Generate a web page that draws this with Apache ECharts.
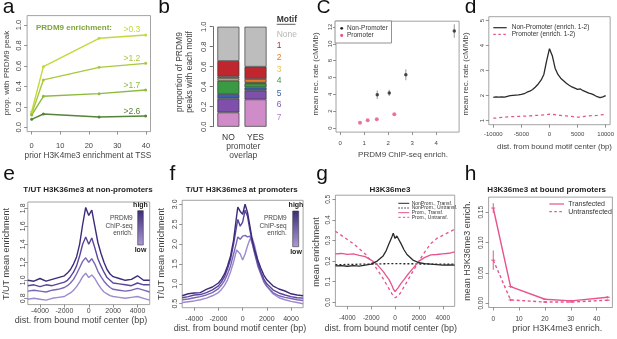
<!DOCTYPE html>
<html><head><meta charset="utf-8">
<script src="https://cdn.jsdelivr.net/npm/echarts@6/dist/echarts.min.js"></script>
<style>html,body{margin:0;padding:0;background:#fff}#c{width:617px;height:339px}</style>
</head><body><div id="c"></div>
<script>
// ---------- DATA ----------
// panel a
const aX = [0, 4.1, 23.6, 39.9];
const a03 = [0.153, 0.593, 0.870, 0.902];
const a12 = [0.130, 0.463, 0.586, 0.625];
const a17 = [0.120, 0.303, 0.329, 0.365];
const a26 = [0.078, 0.130, 0.101, 0.110];
const aLabels = ['>0.3', '>1.2', '>1.7', '>2.6'];
const aTicksX = [0, 10, 20, 30, 40];
const aTicksY = [0, 0.2, 0.4, 0.6, 0.8, 1.0];
// panel b
const bCats = ['NO', 'YES'];
const bMotifs = ['7', '6', '5', '4', '3', '2', '1', 'None'];
const bNO  = [0.143, 0.140, 0.044, 0.133, 0.023, 0.017, 0.157, 0.343];
const bYES = [0.273, 0.087, 0.033, 0.040, 0.007, 0.037, 0.123, 0.400];
const bTicksY = [0, 0.2, 0.4, 0.6, 0.8, 1.0];
// panel c
const cNonX = [1.55, 2.05, 2.74, 4.76];
const cNonY = [3.95, 4.16, 6.33, 11.52];
const cNonErr = [0.5, 0.37, 0.65, 0.8];
const cPromX = [0.83, 1.15, 1.53, 2.26];
const cPromY = [0.63, 0.91, 1.03, 1.62];
const cPromErr = [0.06, 0.06, 0.07, 0.09];
const cTicksX = [0, 1, 2, 3, 4];
const cTicksY = [0, 2, 4, 6, 8, 10, 12];
// panel d
const dX = [-10000,-9500,-9000,-8500,-8000,-7500,-7000,-6500,-6000,-5500,-5000,-4500,-4000,-3500,-3000,-2500,-2000,-1500,-1000,-500,0,500,1000,1500,2000,2500,3000,3500,4000,4500,5000,5500,6000,6500,7000,7500,8000,8500,9000,9500,10000];
const dNon = [1.93,1.95,1.94,1.95,1.94,1.97,2.0,2.01,2.02,2.03,2.05,2.08,2.14,2.18,2.25,2.35,2.47,2.62,2.85,3.4,3.88,3.6,3.1,2.85,2.7,2.6,2.5,2.42,2.35,2.3,2.25,2.27,2.2,2.15,2.1,2.07,2.02,1.96,1.92,1.95,2.0];
const dProm = [1.1,1.1,1.12,1.13,1.14,1.15,1.16,1.16,1.17,1.17,1.18,1.18,1.19,1.19,1.2,1.21,1.21,1.22,1.23,1.24,1.26,1.25,1.24,1.22,1.21,1.2,1.19,1.18,1.17,1.15,1.14,1.14,1.16,1.18,1.19,1.2,1.2,1.21,1.23,1.24,1.25];
const dTicksX = [-10000, -5000, 0, 5000, 10000];
const dTicksY = [1, 2, 3, 4, 5];
// panel e
const eX = [-5000,-4500,-4000,-3500,-3000,-2500,-2000,-1750,-1500,-1250,-1000,-750,-500,-250,0,250,500,750,1000,1250,1500,1750,2000,2500,3000,3500,4000,4500,5000];
const eL1 = [1.00,0.99,1.02,0.99,1.01,1.03,1.05,1.08,1.12,1.18,1.26,1.40,1.62,1.81,1.72,1.78,1.60,1.42,1.30,1.20,1.12,1.07,1.04,1.02,1.00,1.01,1.05,1.00,1.00];
const eL2 = [0.94,0.95,0.93,0.95,0.94,0.96,0.98,1.00,1.04,1.09,1.16,1.27,1.40,1.48,1.40,1.47,1.36,1.24,1.16,1.09,1.03,1.00,0.97,0.96,0.95,0.94,0.97,0.95,0.95];
const eL3 = [0.88,0.89,0.88,0.87,0.89,0.90,0.92,0.94,0.97,1.01,1.07,1.14,1.21,1.25,1.20,1.24,1.18,1.10,1.04,0.99,0.95,0.92,0.90,0.89,0.88,0.89,0.91,0.89,0.87];
const eL4 = [0.79,0.80,0.79,0.78,0.80,0.81,0.82,0.84,0.86,0.89,0.93,0.98,1.04,1.08,1.03,1.06,1.02,0.96,0.91,0.87,0.85,0.83,0.82,0.81,0.80,0.81,0.82,0.80,0.78];
const eTicksX = [-4000, -2000, 0, 2000, 4000];
const eTicksY = [0.8, 1.0, 1.2, 1.4, 1.6, 1.8];
// panel f
const fX = [-5000,-4500,-4000,-3500,-3000,-2500,-2000,-1750,-1500,-1250,-1000,-750,-500,-400,-200,0,200,400,600,800,1000,1250,1500,1750,2000,2500,3000,3500,4000,4500,5000];
const fL1 = [0.70,0.75,0.77,0.78,0.86,0.92,1.02,1.12,1.25,1.45,1.70,2.10,2.70,2.93,2.82,2.75,3.00,2.80,2.45,2.10,1.85,1.60,1.40,1.22,1.10,0.95,0.87,0.82,0.75,0.72,0.70];
const fL2 = [0.65,0.68,0.72,0.73,0.78,0.85,0.95,1.05,1.18,1.38,1.62,2.00,2.45,2.62,2.45,2.55,2.85,2.70,2.35,2.05,1.80,1.52,1.30,1.12,1.00,0.85,0.77,0.72,0.68,0.65,0.64];
const fL3 = [0.60,0.62,0.65,0.68,0.72,0.78,0.88,0.97,1.08,1.25,1.45,1.75,2.05,2.18,2.12,2.20,2.22,2.18,2.20,2.00,1.75,1.45,1.25,1.05,0.93,0.78,0.70,0.66,0.63,0.60,0.58];
const fL4 = [0.53,0.55,0.57,0.60,0.64,0.70,0.78,0.86,0.96,1.10,1.30,1.55,1.85,1.90,1.75,1.60,1.75,1.95,2.12,2.15,1.95,1.60,1.30,1.10,0.95,0.75,0.65,0.60,0.56,0.53,0.50];
const fTicksX = [-4000, -2000, 0, 2000, 4000];
const fTicksY = [0.5, 1.0, 1.5, 2.0, 2.5, 3.0];
// panel g
const gX = [-5000,-4500,-4000,-3500,-3000,-2500,-2000,-1500,-1000,-750,-500,-250,-150,0,150,250,500,750,1000,1500,2000,2500,3000,3500,4000,4500,5000];
const gNonT = [0.177,0.178,0.175,0.178,0.176,0.180,0.185,0.200,0.225,0.250,0.285,0.320,0.335,0.310,0.322,0.315,0.285,0.255,0.232,0.205,0.192,0.188,0.185,0.183,0.180,0.181,0.180];
const gNonU = [0.183,0.183,0.184,0.184,0.185,0.185,0.186,0.186,0.187,0.187,0.188,0.188,0.188,0.188,0.188,0.188,0.188,0.187,0.187,0.187,0.186,0.186,0.186,0.185,0.185,0.185,0.185];
const gProT = [0.235,0.237,0.233,0.235,0.228,0.222,0.205,0.183,0.150,0.130,0.110,0.080,0.065,0.052,0.060,0.070,0.092,0.110,0.130,0.165,0.200,0.218,0.230,0.232,0.235,0.238,0.245];
const gProU = [0.345,0.325,0.305,0.285,0.260,0.235,0.200,0.160,0.115,0.090,0.065,0.040,0.032,0.022,0.025,0.030,0.050,0.075,0.100,0.150,0.200,0.245,0.285,0.310,0.325,0.340,0.355];
const gNames = ['NonProm., Transf.', 'NonProm., Untransf.', 'Prom., Transf.', 'Prom., Untransf.'];
const gTicksX = [-4000, -2000, 0, 2000, 4000];
const gTicksY = [0, 0.1, 0.2, 0.3, 0.4, 0.5];
// panel h
const hX = [0, 6.7, 20, 30.1, 44.3];
const hTrans = [0.157, 0.0275, 0.0066, 0.004, 0.0099];
const hTransErr = [0.008, 0.002, 0.001, 0.001, 0.002];
const hUntrans = [0.071, 0.0055, 0.002, 0.002, 0.005];
const hUntransErr = [0.016, 0.002, 0.001, 0.001, 0.001];
const hTicksX = [0, 10, 20, 30, 40];
const hTicksY = [0, 0.05, 0.10, 0.15];

// ---------- STYLE ----------
const FONT = "'Liberation Sans', Arial, Helvetica, sans-serif";
const PINK = '#e6548c';
const GREENS = ['#c4d83c', '#a8c93e', '#8dba3e', '#56843a'];
const MOTIF_COLORS = ['#d08bc9', '#7f50ab', '#3b5fb0', '#3a9a44', '#f3cf3a', '#e07b2a', '#c0262e', '#bdbdbd'];
const MOTIF_TEXT = ['#b67fcc', '#7f55ad', '#3b5fb0', '#3a9a44', '#f0c43a', '#e07b2a', '#c0262e', '#b5b5b5'];
const PURPLES = ['#3d2b7a', '#5b449b', '#7b66b6', '#9d8ace'];

const zip = (xs, ys) => xs.map((x, i) => [x, ys[i]]);

const grids = [], xAxes = [], yAxes = [], series = [], graphics = [];

function panel(box, xr, yr, xt, yt, o) {
  const i = grids.length;
  grids.push({left: box[0], top: box[1], width: box[2], height: box[3], show: o.frame !== false,
    borderColor: '#8c8c8c', borderWidth: 0.8, containLabel: false});
  xAxes.push({type: 'value', gridIndex: i, min: xr[0], max: xr[1], splitLine: {show: false},
    axisLine: {show: false, onZero: false}, axisTick: {show: true, length: 3, customValues: xt, lineStyle: {color: '#777', width: 0.8}},
    axisLabel: {customValues: xt, margin: o.xm, fontSize: o.fs, color: '#444', fontFamily: FONT,
      formatter: o.xf || (v => String(v))}});
  yAxes.push({type: 'value', gridIndex: i, min: yr[0], max: yr[1], splitLine: {show: false},
    axisLine: {show: false, onZero: false}, axisTick: {show: true, length: 3, customValues: yt, lineStyle: {color: '#777', width: 0.8}},
    axisLabel: {customValues: yt, margin: o.ym, fontSize: o.fs, color: '#444', fontFamily: FONT, rotate: 90,
      formatter: o.yf || (v => String(v))}});
  return i;
}
function line(idx, xs, ys, color, width, dash, extra) {
  series.push(Object.assign({type: 'line', xAxisIndex: idx, yAxisIndex: idx, data: zip(xs, ys),
    showSymbol: false, symbol: 'none', lineStyle: {color, width, type: dash || 'solid'}, itemStyle: {color},
    silent: true, z: 3}, extra || {}));
}
function errbars(idx, xs, ys, es, color, w) {
  series.push({type: 'custom', xAxisIndex: idx, yAxisIndex: idx, silent: true, z: 2,
    data: xs.map((x, i) => [x, ys[i] - es[i], ys[i] + es[i]]),
    renderItem: (p, api) => {
      const a = api.coord([api.value(0), api.value(1)]), b = api.coord([api.value(0), api.value(2)]);
      return {type: 'line', shape: {x1: a[0], y1: a[1], x2: b[0], y2: b[1]}, style: {stroke: color, lineWidth: w}};
    }});
}
function txt(text, x, y, size, o) {
  o = o || {};
  graphics.push({type: 'text', x, y, rotation: o.rot || 0, silent: true, z: 10,
    style: {text, font: (o.bold ? 'bold ' : '') + size + 'px ' + FONT, fill: o.color || '#333',
      textAlign: o.align || 'center', textVerticalAlign: o.va || 'middle',
      align: o.align || 'center', verticalAlign: o.va || 'middle'}});
}
function seg(x1, y1, x2, y2, color, w, dash) {
  graphics.push({type: 'line', silent: true, z: 10, shape: {x1, y1, x2, y2},
    style: {stroke: color, lineWidth: w, lineDash: dash || null}});
}
const R90 = Math.PI / 2;
const f1 = v => v.toFixed(1), f2 = v => v.toFixed(2);

// ---------- panel a ----------
const pa = panel([27.1, 15.6, 123.4, 116.0], [-1.6, 41.6], [-0.042, 1.092], aTicksX, aTicksY,
  {xm: 10, ym: 4, fs: 7.5, yf: f1});
[a03, a12, a17, a26].forEach((ys, k) => line(pa, aX, ys, GREENS[k], 1.4, 'solid',
  {showSymbol: true, symbol: 'circle', symbolSize: 3}));
txt('PRDM9 enrichment:', 74, 27.7, 8, {bold: true, color: '#7ea43c'});
[30, 58.3, 85.7, 111.7].forEach((y, k) => txt(aLabels[k], 123.5, y, 8.5, {align: 'left', color: GREENS[k]}));
txt('prior H3K4me3 enrichment at TSS', 88, 155.7, 8.3, {color: '#444'});
txt('prop. with PRDM9 peak', 7, 73, 8, {rot: R90, color: '#444'});
txt('a', 8.5, 7.5, 21, {color: '#111'});

// ---------- panel b ----------
const pb = grids.length;
grids.push({left: 214.8, top: 26.7, width: 54.3, height: 100, show: false});
xAxes.push({type: 'category', gridIndex: pb, data: bCats, axisLine: {show: false, onZero: false}, axisTick: {show: false},
  axisLabel: {margin: 6, fontSize: 8.5, color: '#333', fontFamily: FONT}});
yAxes.push({type: 'value', gridIndex: pb, min: 0, max: 1, offset: 2, splitLine: {show: false},
  axisLine: {show: true, onZero: false, lineStyle: {color: '#444', width: 0.8}},
  axisTick: {show: true, length: 3, customValues: bTicksY, lineStyle: {color: '#444', width: 0.8}},
  axisLabel: {customValues: bTicksY, margin: 5, fontSize: 7.5, color: '#444', fontFamily: FONT, rotate: 90, formatter: f1}});
bMotifs.forEach((m, k) => series.push({type: 'bar', xAxisIndex: pb, yAxisIndex: pb, stack: 'b', barWidth: 22,
  data: [bNO[k], bYES[k]], itemStyle: {color: MOTIF_COLORS[k], borderColor: '#3a3a3a', borderWidth: 0.7}, silent: true}));
txt('Motif', 276.7, 19.5, 8.5, {align: 'left', bold: true, color: '#333'});
seg(276.7, 24.3, 295.5, 24.3, '#333', 0.8);
[34.3, 46, 57.7, 69.3, 81, 93.3, 105, 117.7].forEach((y, j) => {
  const k = 7 - j; txt(bMotifs[k], 276.7, y, 8.5, {align: 'left', color: MOTIF_TEXT[k]});
});
txt('promoter', 243.3, 146.7, 8.5, {color: '#444'});
txt('overlap', 243.3, 156, 8.5, {color: '#444'});
txt('proportion of PRDM9', 180, 72, 8.5, {rot: R90, color: '#444'});
txt('peaks with each motif', 190, 72, 8.5, {rot: R90, color: '#444'});
txt('b', 164, 7.5, 21, {color: '#111'});

// ---------- panel c ----------
const pc = panel([336, 21.2, 123.1, 110.9], [-0.17, 4.96], [-0.49, 12.69], cTicksX, cTicksY,
  {xm: 8.5, ym: 3, fs: 6});
errbars(pc, cNonX, cNonY, cNonErr, '#aaaaaa', 1.2);
errbars(pc, cPromX, cPromY, cPromErr, '#f0a0bf', 1);
series.push({type: 'scatter', xAxisIndex: pc, yAxisIndex: pc, data: zip(cNonX, cNonY), symbol: 'circle',
  symbolSize: 3.5, itemStyle: {color: '#222'}, silent: true, z: 4});
series.push({type: 'scatter', xAxisIndex: pc, yAxisIndex: pc, data: zip(cPromX, cPromY), symbol: 'circle',
  symbolSize: 4, itemStyle: {color: PINK}, silent: true, z: 4});
graphics.push({type: 'rect', silent: true, z: 9, shape: {x: 335, y: 21, width: 56.5, height: 22},
  style: {fill: '#fff', stroke: '#777', lineWidth: 0.8}});
graphics.push({type: 'circle', silent: true, z: 10, shape: {cx: 341.7, cy: 28.3, r: 1.4}, style: {fill: '#222'}});
graphics.push({type: 'circle', silent: true, z: 10, shape: {cx: 341.7, cy: 35.3, r: 1.6}, style: {fill: PINK}});
txt('Non-Promoter', 347, 28.3, 6.5, {align: 'left', color: '#333'});
txt('Promoter', 347, 35.3, 6.5, {align: 'left', color: '#333'});
txt('PRDM9 ChIP-seq enrich.', 403, 155, 8, {color: '#444'});
txt('mean rec. rate (cM/Mb)', 315.5, 74, 8, {rot: R90, color: '#444'});
txt('C', 323.5, 7.5, 19, {color: '#111'});

// ---------- panel d ----------
const pd = panel([488.8, 16.7, 121.4, 108], [-10800, 10800], [0.84, 5.16], dTicksX, dTicksY,
  {xm: 6.5, ym: 3.4, fs: 6});
line(pd, dX, dNon, '#2a2a2a', 1.3);
line(pd, dX, dProm, PINK, 1.3, [3, 3]);
seg(493.3, 27.7, 506.7, 27.7, '#2a2a2a', 1.2);
seg(493.3, 34.3, 506.7, 34.3, PINK, 1.2, [2.5, 2.5]);
txt('Non-Promoter (enrich. 1-2)', 511.7, 27.7, 6.5, {align: 'left', color: '#333'});
txt('Promoter (enrich. 1-2)', 511.7, 34.3, 6.5, {align: 'left', color: '#333'});
txt('dist. from bound motif center (bp)', 554.5, 146.7, 7.8, {color: '#444'});
txt('mean rec. rate (cM/Mb)', 466, 74, 8, {rot: R90, color: '#444'});
txt('d', 470.5, 7.5, 21, {color: '#111'});

// ---------- panel e ----------
const pe = panel([27.8, 202, 121.9, 102.6], [-5000, 5000], [0.73, 1.87], eTicksX, eTicksY,
  {xm: 3, ym: 1, fs: 7, yf: f1});
[eL4, eL3, eL2, eL1].forEach((ys, k) => line(pe, eX, ys, PURPLES[3 - k], 1.4));
txt('T/UT H3K36me3 at non-promoters', 88, 190, 8, {bold: true, color: '#222'});
txt('dist. from bound motif center (bp)', 81, 320.7, 9, {color: '#444'});
txt('T/UT mean enrichment', 6.5, 254, 9, {rot: R90, color: '#444'});
txt('e', 9, 174, 21, {color: '#111'});

// ---------- panel f ----------
const pf = panel([182.2, 200.3, 120.9, 107.4], [-5000, 5000], [0.4, 3.1], fTicksX, fTicksY,
  {xm: 8, ym: 4, fs: 7, yf: f1});
[fL4, fL3, fL2, fL1].forEach((ys, k) => line(pf, fX, ys, PURPLES[3 - k], 1.4));
txt('T/UT H3K36me3 at promoters', 241.7, 190, 8, {bold: true, color: '#222'});
txt('dist. from bound motif center (bp)', 240, 329, 9, {color: '#444'});
txt('T/UT mean enrichment', 161.5, 254, 9, {rot: R90, color: '#444'});
txt('f', 172.5, 174, 21, {color: '#111'});

// colour bars (e and f)
function cbar(x, y, w, h, tx, hx) {
  graphics.push({type: 'rect', silent: true, z: 10, shape: {x, y, width: w, height: h},
    style: {fill: new echarts.graphic.LinearGradient(0, 0, 0, 1, [{offset: 0, color: '#3d2b7a'}, {offset: 1, color: '#ab9bd6'}]),
      stroke: '#3a3a3a', lineWidth: 0.6}});
  txt('high', hx, y - 5.5, 7, {bold: true, color: '#222'});
  txt('low', hx, y + h + 5.5, 7, {bold: true, color: '#222'});
  txt('PRDM9', tx, 218.3, 6.5, {align: 'right', color: '#444'});
  txt('ChIP-seq', tx, 226, 6.5, {align: 'right', color: '#444'});
  txt('enrich.', tx, 233.5, 6.5, {align: 'right', color: '#444'});
}
cbar(137.7, 210.7, 5.6, 34.3, 132.7, 140.5);
cbar(292.7, 211, 6, 35.7, 286.7, 296);

// ---------- panel g ----------
const pg = panel([335.4, 195.2, 119.3, 111.2], [-5000, 5000], [-0.02, 0.52], gTicksX, gTicksY,
  {xm: 8, ym: 4, fs: 6.5, yf: f1});
line(pg, gX, gNonU, '#2a2a2a', 1.3, [2, 2]);
line(pg, gX, gProU, PINK, 1.3, [3, 3]);
line(pg, gX, gProT, PINK, 1.3);
line(pg, gX, gNonT, '#2a2a2a', 1.3);
const gStyles = [['#2a2a2a', null], ['#2a2a2a', [1.5, 1.5]], [PINK, null], [PINK, [2.5, 2]]];
[203.3, 208, 212.7, 217.3].forEach((y, k) => {
  seg(398.3, y, 409.3, y, gStyles[k][0], 1, gStyles[k][1]);
  txt(gNames[k], 411.7, y, 5, {align: 'left', color: '#333'});
});
txt('H3K36me3', 390, 190, 8, {bold: true, color: '#222'});
txt('dist. from bound motif center (bp)', 390.7, 329, 9, {color: '#444'});
txt('mean enrichment', 316.5, 252, 9, {rot: R90, color: '#444'});
txt('g', 322, 174, 21, {color: '#111'});

// ---------- panel h ----------
const ph = panel([488.6, 197.1, 123.8, 110.4], [-1.8, 46.1], [-0.007, 0.175], hTicksX, hTicksY,
  {xm: 8.5, ym: 4, fs: 6.5, yf: f2});
errbars(ph, hX, hTrans, hTransErr, PINK, 1);
errbars(ph, hX, hUntrans, hUntransErr, PINK, 1);
line(ph, hX, hTrans, PINK, 1.4, 'solid', {showSymbol: true, symbol: 'rect', symbolSize: [4, 1]});
line(ph, hX, hUntrans, PINK, 1.4, [3, 2.5], {showSymbol: true, symbol: 'rect', symbolSize: [4, 1]});
seg(549.3, 204, 564, 204, PINK, 1.2);
seg(549.3, 211.7, 564, 211.7, PINK, 1.2, [2.5, 2.5]);
txt('Transfected', 568.3, 204, 7, {align: 'left', color: '#333'});
txt('Untransfected', 568.3, 211.7, 7, {align: 'left', color: '#333'});
txt('H3K36me3 at bound promoters', 546.7, 190, 8, {bold: true, color: '#222'});
txt('prior H3K4me3 enrich.', 557.3, 329, 9, {color: '#444'});
txt('mean H3K36me3 enrich.', 467.3, 251, 9, {rot: R90, color: '#444'});
txt('h', 470.5, 174, 21, {color: '#111'});

const chart = echarts.init(document.getElementById('c'), null, {renderer: 'canvas', width: 617, height: 339});
chart.setOption({animation: false, backgroundColor: '#fff', textStyle: {fontFamily: FONT},
  grid: grids, xAxis: xAxes, yAxis: yAxes, series, graphic: {elements: graphics}});
</script></body></html>
